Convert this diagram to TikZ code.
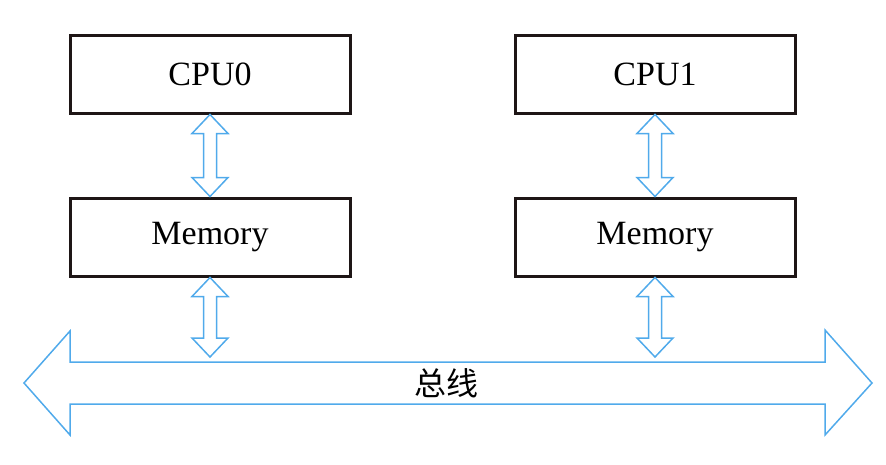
\documentclass[tikz,border=0pt]{standalone}
\usepackage{fontspec}
\setmainfont{Liberation Serif}
\newfontfamily\cjk{Noto Sans CJK SC}
\usetikzlibrary{calc}
\definecolor{busblue}{RGB}{80,170,235}
\definecolor{boxblack}{RGB}{30,22,22}
\tikzset{
  unitbox/.style={draw=boxblack, line width=3pt, minimum width=280pt, minimum height=78pt, inner sep=0pt, font=\fontsize{34}{40}\selectfont},
  blueline/.style={draw=busblue, line width=1.5pt, line join=miter},
}
\newcommand{\vdarr}[2]{%
  \draw[blueline] (#1) -- ++(18,19) -- ++(-11.5,0) -- ($(#2)+(6.5,-19)$) -- ++(11.5,0) -- (#2)
    -- ++(-18,-19) -- ++(11.5,0) -- ($(#1)+(-6.5,19)$) -- ++(-11.5,0) -- cycle;}
\begin{document}
\begin{tikzpicture}[x=1pt,y=-1pt]
\useasboundingbox (0,0) rectangle (886,464);
\node[unitbox] (cpu0) at (210,74) {CPU0};
\node[unitbox] (cpu1) at (655,74) {CPU1};
\node[unitbox] (mem0) at (210,237) {Memory};
\node[unitbox] (mem1) at (655,237) {Memory};
\node[font=\cjk\fontsize{32}{36}\selectfont, inner sep=0pt] (bus) at (446,383) {总线};
\coordinate (bustop) at (446,362);
\draw[blueline] ($(bus)+(-422,0)$) -- ($(bus)+(-376,-52)$) -- ($(bus)+(-376,-21)$) -- ($(bus)+(379,-21)$)
  -- ($(bus)+(379,-53)$) -- ($(bus)+(426,0)$) -- ($(bus)+(379,52)$) -- ($(bus)+(379,21)$)
  -- ($(bus)+(-376,21)$) -- ($(bus)+(-376,52)$) -- cycle;
\vdarr{cpu0.south}{mem0.north}
\vdarr{cpu1.south}{mem1.north}
\coordinate (b0) at ($(mem0.south |- bustop)+(0,-5)$);
\coordinate (b1) at ($(mem1.south |- bustop)+(0,-5)$);
\vdarr{mem0.south}{b0}
\vdarr{mem1.south}{b1}
\end{tikzpicture}
\end{document}
